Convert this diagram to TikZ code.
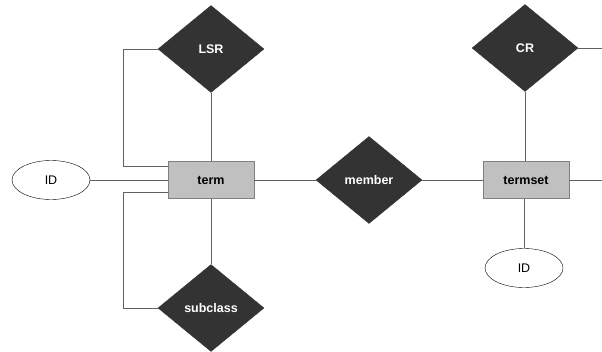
\documentclass[tikz,border=0pt]{standalone}
\usepackage{fontspec}
\setmainfont{Liberation Sans}
\usetikzlibrary{shapes.geometric}
\definecolor{dia}{HTML}{333333}
\definecolor{boxfill}{HTML}{C0C0C0}
\definecolor{boxline}{HTML}{808080}
\definecolor{conn}{HTML}{606060}
\tikzset{
  rel/.style={diamond, fill=dia, draw=dia, inner sep=0pt, minimum width=106pt, minimum height=87pt, text=white, font=\fontsize{12.5}{14}\selectfont\bfseries},
  ent/.style={rectangle, fill=boxfill, draw=boxline, inner sep=0pt, minimum width=86pt, minimum height=37pt, font=\fontsize{12.5}{14}\selectfont\bfseries},
  attr/.style={ellipse, draw=black, fill=white, inner sep=0pt, minimum width=78pt, minimum height=39pt, font=\fontsize{12.5}{14}\selectfont},
  conline/.style={draw=conn, line width=0.8pt}
}
\begin{document}
\begin{tikzpicture}[x=1pt,y=-1pt]
\useasboundingbox (0,0) rectangle (602,351);
\node[ent] (term) at (211,180) {term};
\node[ent] (termset) at (526,180) {termset};
\node[rel] (lsr) at (211,49) {LSR};
\node[rel] (sub) at (211,308) {subclass};
\node[rel] (member) at (369,180) {member};
\node[rel] (cr) at (525,48) {CR};
\node[attr] (id1) at (51,180) {ID};
\node[attr] (id2) at (524,268) {ID};
\coordinate (crend) at (602,48);
\coordinate (tsend) at (602,180);
\draw[conline] (id1.east) -- (term.west);
\draw[conline] (lsr.south) -- (term.north);
\draw[conline] (term.south) -- (sub.north);
\draw[conline] (lsr.west) -- ++(-34,0) |- ([yshift=14pt]term.west);
\draw[conline] ([yshift=-12pt]term.west) -- ++(-44,0) |- (sub.west);
\draw[conline] (term.east) -- (member.west);
\draw[conline] (member.east) -- (termset.west);
\draw[conline] (cr.south) -- (cr.south |- termset.north);
\draw[conline] (cr.east) -- (crend);
\draw[conline] (termset.east) -- (tsend);
\draw[conline] (termset.south -| id2.north) -- (id2.north);
\end{tikzpicture}
\end{document}
